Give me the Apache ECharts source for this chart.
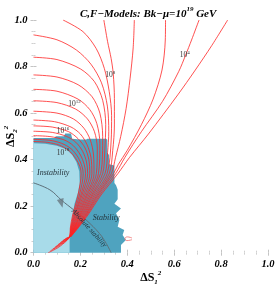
<!DOCTYPE html>
<html><head><meta charset="utf-8">
<script src="https://cdn.jsdelivr.net/npm/echarts@6/dist/echarts.min.js"></script>
<style>html,body{margin:0;padding:0;background:#fff}#c{width:275px;height:286px}</style>
</head><body><div id="c"></div>
<script>
// ---- data ----
const xTicks = [0.0, 0.2, 0.4, 0.6, 0.8, 1.0];
const yTicks = [0.0, 0.2, 0.4, 0.6, 0.8, 1.0];

const stabilityRegion = [[0,0],[0,0.493],[0.09,0.493],[0.095,0.5],[0.13,0.5],[0.135,0.512],[0.16,0.512],[0.165,0.49],[0.2,0.486],[0.225,0.486],[0.23,0.49],[0.31,0.49],[0.315,0.485],[0.315,0.43],[0.322,0.42],[0.323,0.38],[0.345,0.375],[0.345,0.3],[0.352,0.29],[0.359,0.27],[0.359,0.23],[0.345,0.21],[0.373,0.19],[0.352,0.17],[0.366,0.14],[0.359,0.112],[0.387,0.098],[0.38,0.076],[0.394,0.055],[0.373,0.033],[0.373,0]];
const instabilityRegion = [[0,0],[0,0.47],[0.05,0.468],[0.1,0.46],[0.14,0.445],[0.165,0.42],[0.183,0.39],[0.195,0.35],[0.197,0.3],[0.19,0.26],[0.175,0.21],[0.165,0.15],[0.156,0.09],[0.154,0.05],[0.154,0]];
const absStabilityArc = [[0,0.30],[0.07,0.27],[0.119,0.226],[0.17,0.185],[0.225,0.14],[0.281,0.083],[0.31,0.04],[0.331,0.0]];
const arrowPos = [[0.119,0.212]];

const c00 = [[0,0.478],[0.06,0.474],[0.11,0.462],[0.15,0.44],[0.18,0.405],[0.198,0.37],[0.203,0.34],[0.19,0.248],[0.167,0.162],[0.157,0.106],[0.155,0.07],[0.142,0.052],[0.105,0.022],[0.063,0.0]];
const c01 = [[0,0.487],[0.07,0.483],[0.12,0.47],[0.16,0.447],[0.19,0.41],[0.207,0.37],[0.212,0.34],[0.196,0.248],[0.171,0.162],[0.159,0.106],[0.155,0.07],[0.143,0.055],[0.11,0.03],[0.072,0.008]];
const c02 = [[0,0.503],[0.07,0.499],[0.13,0.485],[0.17,0.46],[0.2,0.42],[0.216,0.38],[0.222,0.34],[0.202,0.248],[0.175,0.162],[0.161,0.106],[0.156,0.07],[0.144,0.057],[0.115,0.037],[0.082,0.016]];
const c03 = [[0,0.522],[0.08,0.517],[0.14,0.5],[0.18,0.475],[0.21,0.435],[0.226,0.39],[0.231,0.34],[0.207,0.248],[0.178,0.162],[0.163,0.106],[0.156,0.07],[0.145,0.059],[0.12,0.043],[0.093,0.025]];
const c04 = [[0,0.545],[0.08,0.54],[0.15,0.52],[0.19,0.49],[0.22,0.45],[0.236,0.4],[0.24,0.34],[0.213,0.248],[0.182,0.162],[0.165,0.106],[0.156,0.07],[0.146,0.061],[0.126,0.05],[0.104,0.034]];
const c05 = [[0,0.57],[0.09,0.563],[0.16,0.54],[0.2,0.51],[0.228,0.465],[0.245,0.41],[0.249,0.34],[0.219,0.248],[0.186,0.162],[0.167,0.106],[0.156,0.07],[0.147,0.063],[0.131,0.055],[0.115,0.043]];
const c06 = [[0,0.608],[0.1,0.6],[0.17,0.575],[0.215,0.535],[0.242,0.485],[0.256,0.42],[0.258,0.34],[0.225,0.248],[0.19,0.162],[0.169,0.106],[0.157,0.07],[0.148,0.065],[0.137,0.06],[0.126,0.052]];
const c07 = [[0,0.653],[0.1,0.645],[0.18,0.617],[0.23,0.575],[0.26,0.52],[0.272,0.45],[0.268,0.34],[0.23,0.248],[0.194,0.162],[0.171,0.106],[0.157,0.07],[0.149,0.066],[0.137,0.06]];
const c08 = [[0,0.702],[0.1,0.694],[0.19,0.66],[0.24,0.615],[0.27,0.555],[0.283,0.47],[0.277,0.34],[0.236,0.248],[0.198,0.162],[0.173,0.106],[0.157,0.07]];
const c09 = [[0,0.764],[0.1,0.755],[0.19,0.722],[0.25,0.67],[0.283,0.6],[0.295,0.5],[0.294,0.42],[0.286,0.34],[0.242,0.248],[0.201,0.162],[0.174,0.106],[0.158,0.07]];
const c10 = [[0,0.84],[0.1,0.83],[0.2,0.79],[0.26,0.735],[0.295,0.655],[0.308,0.55],[0.304,0.44],[0.295,0.34],[0.248,0.248],[0.205,0.162],[0.176,0.106],[0.158,0.07]];
const c11 = [[0,0.936],[0.1,0.915],[0.183,0.871],[0.245,0.81],[0.29,0.73],[0.315,0.63],[0.321,0.52],[0.316,0.43],[0.305,0.34],[0.253,0.248],[0.209,0.162],[0.178,0.106],[0.158,0.07]];
const c12 = [[0.126,1.0],[0.211,0.95],[0.267,0.878],[0.302,0.792],[0.323,0.692],[0.333,0.59],[0.331,0.48],[0.314,0.34],[0.259,0.248],[0.213,0.162],[0.18,0.106],[0.159,0.07]];
const c13 = [[0.3,1.0],[0.316,0.907],[0.331,0.835],[0.34,0.77],[0.345,0.663],[0.345,0.549],[0.338,0.44],[0.323,0.34],[0.265,0.248],[0.217,0.162],[0.182,0.106],[0.159,0.07]];
const c14 = [[0.43,1.0],[0.425,0.88],[0.412,0.75],[0.395,0.62],[0.372,0.5],[0.35,0.41],[0.332,0.34],[0.271,0.248],[0.221,0.162],[0.184,0.106],[0.159,0.07]];
const c15 = [[0.563,1.0],[0.562,0.914],[0.548,0.785],[0.51,0.66],[0.46,0.55],[0.4,0.44],[0.362,0.38],[0.341,0.34],[0.276,0.248],[0.224,0.162],[0.186,0.106],[0.159,0.07]];
const c16 = [[0.706,1.0],[0.674,0.914],[0.649,0.85],[0.619,0.778],[0.55,0.65],[0.46,0.52],[0.39,0.41],[0.35,0.34],[0.282,0.248],[0.228,0.162],[0.188,0.106],[0.16,0.07]];
const c17 = [[0.828,1.0],[0.76,0.89],[0.69,0.785],[0.615,0.678],[0.49,0.51],[0.41,0.41],[0.36,0.34],[0.288,0.248],[0.232,0.162],[0.19,0.106],[0.16,0.07]];
const smallLoop = [[0.42,0.063],[0.4,0.068],[0.39,0.06],[0.398,0.052],[0.42,0.056]];

const contourLabelPos = [[0.645,0.85],[0.327,0.767],[0.175,0.642],[0.126,0.525],[0.126,0.432]];
const contourLabelExp = ['4','8','12','16','18'];
const regionLabelPos = [[0.084,0.345],[0.31,0.149]];
const regionLabelText = ['Instability','Stability'];
const arcLabelPos = [[0.237,0.105]];
const arcLabelText = ['Absolute stability'];

// ---- chart ----
const contours = [c00,c01,c02,c03,c04,c05,c06,c07,c08,c09,c10,c11,c12,c13,c14,c15,c16,c17];
const SERIF = 'Liberation Serif';
const RED = '#ff2424';

function polygonSeries(points, color, z) {
  return {
    type: 'custom', coordinateSystem: 'cartesian2d', silent: true, z: z,
    data: [points[0]],
    renderItem: function (params, api) {
      return { type: 'polygon', shape: { points: points.map(p => api.coord(p)) }, style: { fill: color } };
    }
  };
}

const series = [];
series.push(polygonSeries(stabilityRegion, '#4fa3bf', 1));
series.push(polygonSeries(instabilityRegion, '#a8dbe9', 2));
series.push({ type: 'line', data: absStabilityArc, smooth: 0.4, showSymbol: false, silent: true, z: 3,
  lineStyle: { color: '#5d707a', width: 1 } });
series.push({ type: 'scatter', data: arrowPos, symbol: 'triangle', symbolSize: [7, 9], symbolRotate: 195, silent: true, z: 3,
  itemStyle: { color: '#68777f' } });
contours.forEach(c => series.push({ type: 'line', data: c, smooth: 0.3, showSymbol: false, silent: true, z: 4,
  lineStyle: { color: RED, width: 0.8 } }));
series.push({ type: 'line', data: smallLoop, smooth: 0.5, showSymbol: false, silent: true, z: 4,
  lineStyle: { color: '#f07070', width: 0.8 } });

series.push({
  type: 'custom', coordinateSystem: 'cartesian2d', silent: true, z: 6,
  data: contourLabelPos.map((p, i) => [p[0], p[1], i]),
  renderItem: function (params, api) {
    const pt = api.coord([api.value(0), api.value(1)]);
    const e = contourLabelExp[api.value(2)];
    return { type: 'text', x: pt[0], y: pt[1], style: {
      text: '{b|10}{s|' + e + '}', align: 'center', verticalAlign: 'middle',
      rich: { b: { fontFamily: SERIF, fontSize: 7.5, fill: '#333', lineHeight: 9, verticalAlign: 'bottom' },
              s: { fontFamily: SERIF, fontSize: 5, fill: '#333', lineHeight: 9, verticalAlign: 'top' } } } };
  }
});
series.push({
  type: 'custom', coordinateSystem: 'cartesian2d', silent: true, z: 6,
  data: regionLabelPos.map((p, i) => [p[0], p[1], i]),
  renderItem: function (params, api) {
    const pt = api.coord([api.value(0), api.value(1)]);
    return { type: 'text', x: pt[0], y: pt[1], style: {
      text: regionLabelText[api.value(2)], align: 'center', verticalAlign: 'middle',
      font: 'italic 8px "Liberation Serif"', fill: '#24343c' } };
  }
});
series.push({
  type: 'custom', coordinateSystem: 'cartesian2d', silent: true, z: 6,
  data: arcLabelPos.map((p, i) => [p[0], p[1], i]),
  renderItem: function (params, api) {
    const pt = api.coord([api.value(0), api.value(1)]);
    return { type: 'text', x: pt[0], y: pt[1], rotation: -48 * Math.PI / 180, style: {
      text: arcLabelText[api.value(2)], align: 'center', verticalAlign: 'middle',
      font: 'italic 7px "Liberation Serif"', fill: '#24343c' } };
  }
});

const tickLabel = { fontFamily: SERIF, fontWeight: 'bold', fontStyle: 'italic', fontSize: 10.5, color: '#000' };
const tickStyle = { show: true, length: 3, lineStyle: { color: '#c4c4c4', width: 1 } };
const minorStyle = { show: true, splitNumber: 4, length: 2, lineStyle: { color: '#d0d0d0', width: 1 } };
const nameRich = {
  b: { fontFamily: SERIF, fontWeight: 'bold', fontSize: 12, color: '#000', lineHeight: 14, verticalAlign: 'bottom' },
  sub: { fontFamily: SERIF, fontWeight: 'bold', fontStyle: 'italic', fontSize: 7, color: '#000', lineHeight: 14, verticalAlign: 'bottom', padding: [0, 0, -2, 0] },
  sup: { fontFamily: SERIF, fontWeight: 'bold', fontStyle: 'italic', fontSize: 7, color: '#000', lineHeight: 14, verticalAlign: 'top' }
};

const option = {
  animation: false,
  backgroundColor: '#fff',
  title: {
    text: '{t|C,F\u2212Models: Bk\u2212\u03bc=10}{s|19}{t| GeV}', left: 75, top: 1,
    textStyle: { rich: {
      t: { fontFamily: SERIF, fontWeight: 'bold', fontStyle: 'italic', fontSize: 11, color: '#000', lineHeight: 14, verticalAlign: 'bottom' },
      s: { fontFamily: SERIF, fontWeight: 'bold', fontStyle: 'italic', fontSize: 7, color: '#000', lineHeight: 14, verticalAlign: 'top' } } }
  },
  grid: { left: 33.5, right: 7, top: 20, bottom: 33.3, containLabel: false, outerBoundsMode: 'none' },
  xAxis: [{
    type: 'value', min: xTicks[0], max: xTicks[xTicks.length - 1], interval: 0.2,
    axisLine: { show: false }, splitLine: { show: false },
    axisTick: tickStyle, minorTick: minorStyle,
    axisLabel: Object.assign({ margin: 6, formatter: v => v.toFixed(1) }, tickLabel),
    name: '{b|\u0394S}{sub|1}{sup|2}', nameLocation: 'middle', nameGap: 17, nameMoveOverlap: false,
    nameTextStyle: { rich: nameRich }
  }, {
    type: 'value', position: 'top', min: 0, max: 1, interval: 0.2, offset: 3,
    axisLine: { show: false }, splitLine: { show: false }, axisLabel: { show: false },
    axisTick: tickStyle, minorTick: minorStyle
  }],
  yAxis: [{
    type: 'value', min: yTicks[0], max: yTicks[yTicks.length - 1], interval: 0.2,
    axisLine: { show: false }, splitLine: { show: false },
    axisTick: tickStyle, minorTick: minorStyle,
    axisLabel: Object.assign({ margin: 6, formatter: v => v.toFixed(1) }, tickLabel),
    name: '{b|\u0394S}{sub|2}{sup|2}', nameLocation: 'middle', nameGap: 17, nameRotate: 90, nameMoveOverlap: false,
    nameTextStyle: { rich: nameRich }
  }, {
    type: 'value', position: 'right', min: 0, max: 1, interval: 0.2,
    axisLine: { show: false }, splitLine: { show: false }, axisLabel: { show: false },
    axisTick: tickStyle, minorTick: minorStyle
  }],
  series: series
};

const chart = echarts.init(document.getElementById('c'), null, { renderer: 'canvas' });
chart.setOption(option);
</script></body></html>
